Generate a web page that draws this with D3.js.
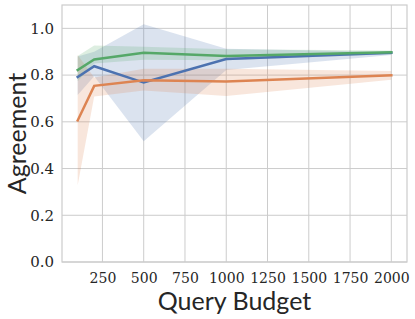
<!DOCTYPE html>
<html>
<head>
<meta charset="utf-8">
<script src="https://cdn.jsdelivr.net/npm/d3@7"></script>
<style>
  body { margin: 0; background: #fff; }
</style>
</head>
<body>
<svg id="chart" width="415" height="319"></svg>
<script>
// query budgets
const budgets = [100, 200, 500, 1000, 2000];

// blue series
const blueMean = [0.792, 0.838, 0.768, 0.869, 0.895];
const blueLow  = [0.715, 0.795, 0.517, 0.822, 0.886];
const blueHigh = [0.880, 0.900, 1.018, 0.913, 0.899];

// orange series
const orangeMean = [0.606, 0.754, 0.778, 0.773, 0.799];
const orangeLow  = [0.328, 0.708, 0.734, 0.711, 0.780];
const orangeHigh = [0.886, 0.790, 0.827, 0.827, 0.818];

// green series
const greenMean = [0.822, 0.867, 0.896, 0.882, 0.898];
const greenLow  = [0.774, 0.850, 0.866, 0.864, 0.889];
const greenHigh = [0.882, 0.927, 0.921, 0.911, 0.905];

const xTicks = [250, 500, 750, 1000, 1250, 1500, 1750, 2000];
const yTicks = [0.0, 0.2, 0.4, 0.6, 0.8, 1.0];

const series = [
  {color: "#4c72b0", mean: blueMean, low: blueLow, high: blueHigh},
  {color: "#dd8452", mean: orangeMean, low: orangeLow, high: orangeHigh},
  {color: "#55a868", mean: greenMean, low: greenLow, high: greenHigh}
];

var svg = d3.select("#chart"),
  margin = {top: 5, right: 8, bottom: 57, left: 62},
  width = +svg.attr("width"),
  height = +svg.attr("height");

const xScale = d3.scaleLinear()
  .domain([5, 2095])
  .range([margin.left, width - margin.right]);

const yScale = d3.scaleLinear()
  .domain([0, 1.1])
  .range([height - margin.bottom, margin.top]);

// grid
svg.append("g")
  .selectAll("line")
  .data(xTicks)
  .join("line")
  .attr("x1", d => xScale(d)).attr("x2", d => xScale(d))
  .attr("y1", yScale(0)).attr("y2", yScale(1.1))
  .attr("stroke", "#cccccc").attr("stroke-width", 1);

svg.append("g")
  .selectAll("line")
  .data(yTicks)
  .join("line")
  .attr("x1", xScale(5)).attr("x2", xScale(2095))
  .attr("y1", d => yScale(d)).attr("y2", d => yScale(d))
  .attr("stroke", "#cccccc").attr("stroke-width", 1);

// bands
const area = d3.area()
  .x((d, i) => xScale(budgets[i]))
  .y0(d => yScale(d[0]))
  .y1(d => yScale(d[1]));

const line = d3.line()
  .x((d, i) => xScale(budgets[i]))
  .y(d => yScale(d));

series.forEach(s => {
  svg.append("path")
    .datum(s.low.map((v, i) => [v, s.high[i]]))
    .attr("d", area)
    .attr("fill", s.color)
    .attr("fill-opacity", 0.2);
});

series.forEach(s => {
  svg.append("path")
    .datum(s.mean)
    .attr("d", line)
    .attr("fill", "none")
    .attr("stroke", s.color)
    .attr("stroke-width", 2.5)
    .attr("stroke-linecap", "square");
});

// frame
svg.append("rect")
  .attr("x", xScale(5)).attr("y", yScale(1.1))
  .attr("width", xScale(2095) - xScale(5))
  .attr("height", yScale(0) - yScale(1.1))
  .attr("fill", "none")
  .attr("stroke", "#cccccc").attr("stroke-width", 1.2);

// axes
const xAxis = svg.append("g")
  .attr("transform", `translate(0,${height - margin.bottom})`)
  .call(d3.axisBottom(xScale).tickValues(xTicks).tickFormat(d3.format("d")).tickSize(0).tickPadding(11))
  .attr("font-family", "DejaVu Serif")
  .attr("font-size", 14);
xAxis.select(".domain").remove();
xAxis.selectAll("text").attr("fill", "#262626");

const yAxis = svg.append("g")
  .attr("transform", `translate(${margin.left},0)`)
  .call(d3.axisLeft(yScale).tickValues(yTicks).tickFormat(d3.format(".1f")).tickSize(0).tickPadding(8))
  .attr("font-family", "DejaVu Serif")
  .attr("font-size", 15);
yAxis.select(".domain").remove();
yAxis.selectAll("text").attr("fill", "#262626");

// labels
svg.append("text")
  .attr("x", (xScale(5) + xScale(2095)) / 2)
  .attr("y", 310)
  .attr("text-anchor", "middle")
  .attr("font-family", "Lato, sans-serif")
  .attr("font-size", "25px")
  .attr("fill", "#262626")
  .text("Query Budget");

svg.append("text")
  .attr("transform", `translate(26,${(yScale(0) + yScale(1.1)) / 2}) rotate(-90)`)
  .attr("text-anchor", "middle")
  .attr("font-family", "Lato, sans-serif")
  .attr("font-size", "25px")
  .attr("fill", "#262626")
  .text("Agreement");
</script>
</body>
</html>
